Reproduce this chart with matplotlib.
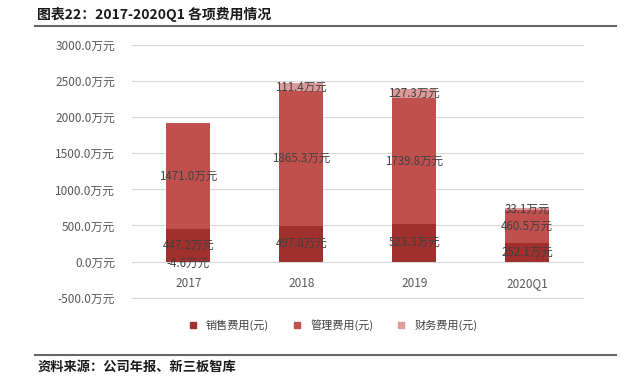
import matplotlib
matplotlib.use('Agg')
import numpy as np
from matplotlib import pyplot as plt
from matplotlib.lines import Line2D

plt.rcParams['font.family'] = ['Noto Sans CJK SC', 'DejaVu Sans']

years = ['2017', '2018', '2019', '2020Q1']
sales = [447.2, 497.8, 523.3, 252.1]
admin = [1471.0, 1865.3, 1739.8, 460.5]
finance = [-4.6, 111.4, 127.3, 33.1]
series_names = ['销售费用(元)', '管理费用(元)', '财务费用(元)']
colors = ['#a0302d', '#c0504d', '#dc9a99']

fig = plt.figure(figsize=(6.4, 3.81), dpi=100)
ax = fig.add_axes([0.206, 0.215, 0.706, 0.667])

x = np.arange(len(years))
w = 0.39
sales = np.array(sales)
admin = np.array(admin)
finance = np.array(finance)

ax.bar(x, sales, w, color=colors[0], zorder=2)
ax.bar(x, admin, w, bottom=sales, color=colors[1], zorder=2)
fin_bottom = sales + admin
ax.bar(x, finance, w, bottom=np.where(finance < 0, 0, fin_bottom), color=colors[2], zorder=2)

lab_kw = dict(ha='center', va='center', fontsize=8.3, color='#404040', zorder=3)
for i in range(len(years)):
    ax.text(x[i], sales[i] / 2, f'{sales[i]:.1f}万元', **lab_kw)
    ax.text(x[i], sales[i] + admin[i] / 2, f'{admin[i]:.1f}万元', **lab_kw)
    if finance[i] < 0:
        ax.text(x[i], finance[i] - 25, f'{finance[i]:.1f}万元', **lab_kw)
    else:
        ax.text(x[i], fin_bottom[i] + finance[i] / 2, f'{finance[i]:.1f}万元', **lab_kw)

ax.set_xlim(-0.5, len(years) - 0.5)
ax.set_ylim(-520, 3000)
ax.set_yticks(np.arange(-500, 3001, 500))
ax.set_yticklabels([f'{v:.1f}万元' for v in np.arange(-500, 3001, 500)])
ax.set_xticks(x)
ax.set_xticklabels(years)
ax.tick_params(axis='both', length=0, labelsize=8.5, labelcolor='#595959')
ax.tick_params(axis='y', pad=12)
ax.tick_params(axis='x', pad=-16)
ax.grid(axis='y', color='#d9d9d9', linewidth=0.8, zorder=0)
for s in ax.spines.values():
    s.set_visible(False)

handles = [Line2D([], [], marker='s', linestyle='none', markersize=5, color=c) for c in colors]
fig.legend(handles, series_names, loc='center', bbox_to_anchor=(0.515, 0.147), ncol=3,
           frameon=False, fontsize=8, labelcolor='#404040', handletextpad=0.2, columnspacing=1.5)

fig.text(0.058, 0.963, '图表22：2017-2020Q1 各项费用情况', fontsize=10, fontweight='bold',
         color='#1a1a1a', va='center')
fig.add_artist(Line2D([0.055, 0.963], [0.932, 0.932], color='#666666', linewidth=1.5))
fig.add_artist(Line2D([0.055, 0.963], [0.068, 0.068], color='#666666', linewidth=1.5))
fig.text(0.058, 0.037, '资料来源：公司年报、新三板智库', fontsize=9.5, fontweight='bold',
         color='#1a1a1a', va='center')

fig.savefig('out.png', dpi=100)
